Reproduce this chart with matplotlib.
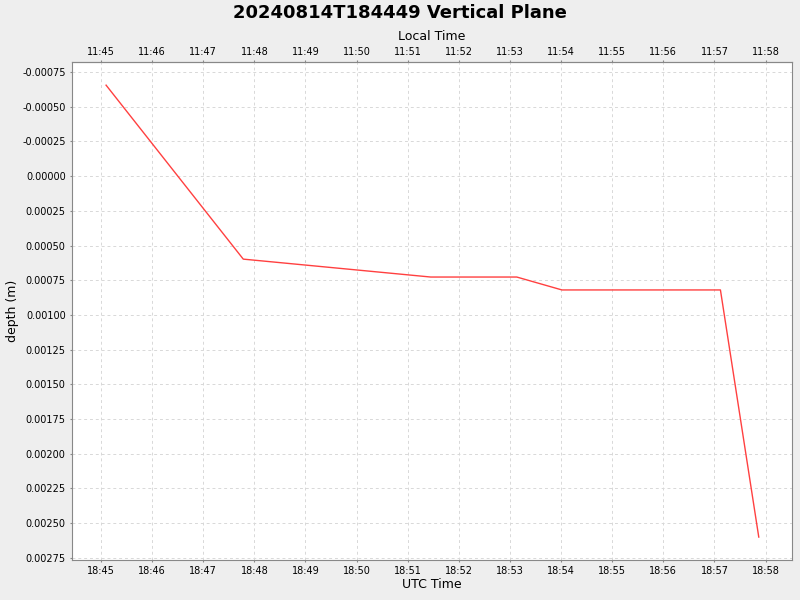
import matplotlib
matplotlib.use("Agg")
import matplotlib.pyplot as plt
import matplotlib.dates as mdates
import pandas as pd

# sample times (UTC) and depths
utc_times = ["2024-08-14 18:45:06", "2024-08-14 18:47:47", "2024-08-14 18:51:27",
             "2024-08-14 18:53:08", "2024-08-14 18:54:01", "2024-08-14 18:57:07",
             "2024-08-14 18:57:52"]
depths = [-0.000655, 0.000598, 0.000727, 0.000727, 0.000820, 0.000820, 0.00260]
local_offset_hours = -7

t = pd.to_datetime(utc_times)

fig = plt.figure(figsize=(8, 6), dpi=100, facecolor="#eeeeee")
ax = fig.add_axes([0.09, 0.0667, 0.9, 0.83])
ax.set_facecolor("white")

ax.plot(t, depths, color="#ff4040", linewidth=1)

ax.set_xlim(pd.Timestamp("2024-08-14 18:44:26"), pd.Timestamp("2024-08-14 18:58:31"))
ax.set_ylim(0.002765, -0.000822)
ax.set_yticks([i * 0.00025 for i in range(-3, 12)])
ax.yaxis.set_major_formatter(plt.FuncFormatter(lambda v, p: f"{v:.5f}"))

ax.xaxis.set_major_locator(mdates.MinuteLocator())
ax.xaxis.set_major_formatter(mdates.DateFormatter("%H:%M"))

off = local_offset_hours / 24.0
sec = ax.secondary_xaxis("top", functions=(lambda x: x + off, lambda x: x - off))
sec.xaxis.set_major_locator(mdates.MinuteLocator())
sec.xaxis.set_major_formatter(mdates.DateFormatter("%H:%M"))
sec.set_xlabel("Local Time", fontsize=9, labelpad=5)
sec.tick_params(labelsize=7, length=1.5, pad=2, color="#888888")
for s in sec.spines.values():
    s.set_color("#888888")

ax.grid(True, linestyle=(0, (3, 3)), color="#d8d8d8", linewidth=0.7)
ax.tick_params(axis="x", labelsize=7, length=1.5, pad=3, color="#888888")
ax.tick_params(axis="y", labelsize=7, length=1.5, pad=3, color="#888888")
for s in ax.spines.values():
    s.set_color("#888888")

ax.set_xlabel("UTC Time", fontsize=9, labelpad=1)
ax.set_ylabel("depth (m)", fontsize=9, labelpad=2)
fig.suptitle("20240814T184449 Vertical Plane", fontsize=13, fontweight="bold", y=0.993)

fig.savefig("out.png", dpi=100, facecolor=fig.get_facecolor())
